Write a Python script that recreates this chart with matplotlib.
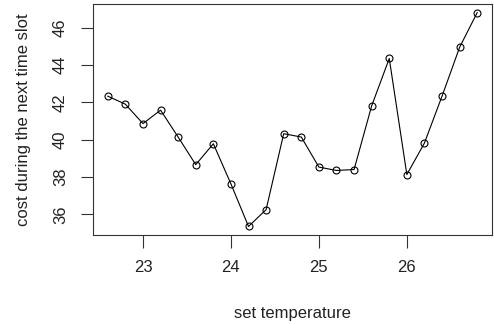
import matplotlib.pyplot as plt

# set temperature vs cost
temps = [22.6, 22.8, 23.0, 23.2, 23.4, 23.6, 23.8, 24.0, 24.2, 24.4, 24.6,
         24.8, 25.0, 25.2, 25.4, 25.6, 25.8, 26.0, 26.2, 26.4, 26.6, 26.8]
costs = [42.33, 41.90, 40.86, 41.58, 40.14, 38.66, 39.78, 37.63, 35.35, 36.25, 40.32,
         40.14, 38.53, 38.35, 38.40, 41.81, 44.35, 38.13, 39.82, 42.33, 44.95, 46.81]
x_ticks = [23, 24, 25, 26]
y_ticks = [36, 38, 40, 42, 44, 46]

plt.rcParams['font.family'] = ['Liberation Sans', 'DejaVu Sans']

fig = plt.figure(figsize=(4.94, 3.24), dpi=100)
ax = fig.add_axes([93 / 494, 89 / 324, 399 / 494, 231 / 324])

ax.plot(temps, costs, color='black', linewidth=0.8, marker='o', markersize=5,
        markerfacecolor='none', markeredgecolor='black', markeredgewidth=0.8)

# R style: 4% padding
xr = max(temps) - min(temps)
yr = max(costs) - min(costs)
ax.set_xlim(min(temps) - 0.04 * xr, max(temps) + 0.04 * xr)
ax.set_ylim(min(costs) - 0.04 * yr, max(costs) + 0.04 * yr)

ax.set_xticks(x_ticks)
ax.set_yticks(y_ticks)
ax.set_yticklabels([str(v) for v in y_ticks], rotation=90, va='center')
ax.tick_params(axis='both', direction='out', length=9, width=0.8,
               labelsize=12, pad=9, color='#333333', labelcolor='#222222')
for s in ax.spines.values():
    s.set_linewidth(0.8)
    s.set_color('#333333')

ax.set_xlabel("set temperature", fontsize=12, labelpad=22, color='#222222')
ax.set_ylabel("cost during the next time slot", fontsize=12, labelpad=16, color='#222222')

plt.savefig('out.png', dpi=100)
